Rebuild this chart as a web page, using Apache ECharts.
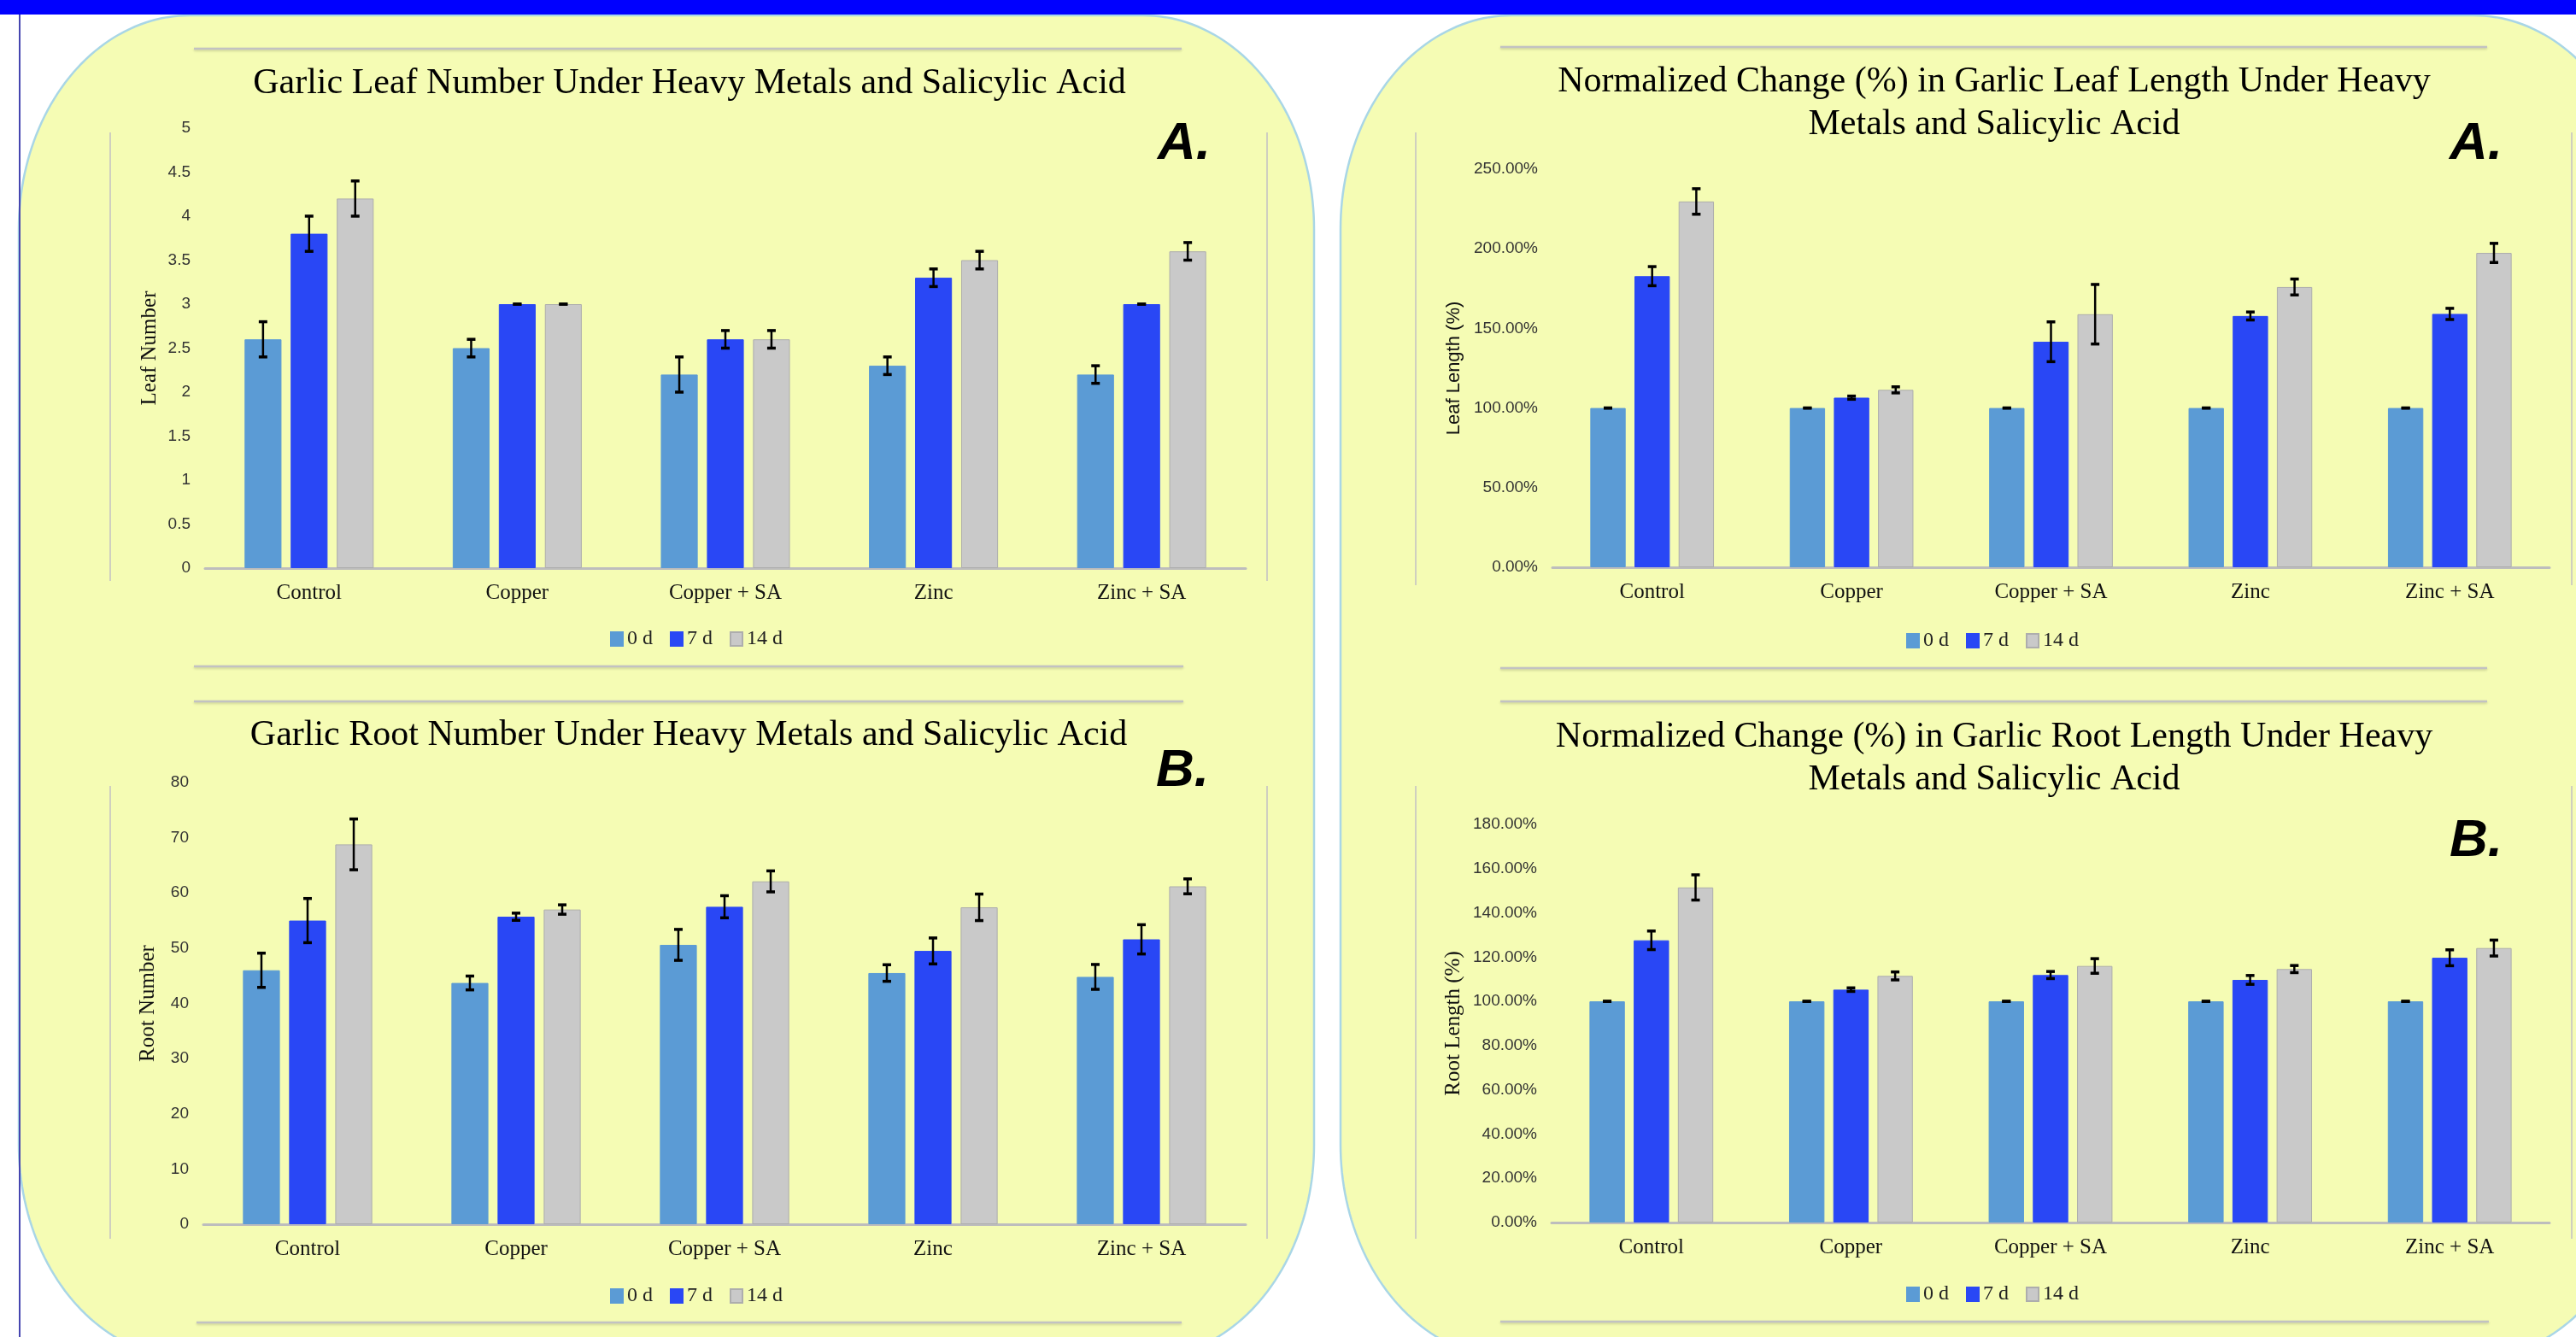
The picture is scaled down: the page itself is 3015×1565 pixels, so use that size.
<!DOCTYPE html>
<html>
<head>
<meta charset="utf-8">
<script src="https://cdn.jsdelivr.net/npm/echarts@6/dist/echarts.min.js"></script>
<style>
  html, body { margin: 0; padding: 0; background: #ffffff; }
  #chart { width: 3015px; height: 1565px; }
</style>
</head>
<body>
<div id="chart"></div>
<script>
// ---- data ----
const categories = ['Control', 'Copper', 'Copper + SA', 'Zinc', 'Zinc + SA'];
const seriesNames = ['0 d', '7 d', '14 d'];

// Garlic leaf number
const leafNum0 = [2.6, 2.5, 2.2, 2.3, 2.2];
const leafNum7 = [3.8, 3.0, 2.6, 3.3, 3.0];
const leafNum14 = [4.2, 3.0, 2.6, 3.5, 3.6];
const leafNumErr0 = [0.2, 0.1, 0.2, 0.1, 0.1];
const leafNumErr7 = [0.2, 0.0, 0.1, 0.1, 0.0];
const leafNumErr14 = [0.2, 0.0, 0.1, 0.1, 0.1];

// Garlic root number
const rootNum0 = [46.0, 43.7, 50.6, 45.5, 44.8];
const rootNum7 = [55.0, 55.7, 57.5, 49.5, 51.6];
const rootNum14 = [68.8, 57.0, 62.1, 57.4, 61.2];
const rootNumErr0 = [3.1, 1.25, 2.8, 1.5, 2.25];
const rootNumErr7 = [4.0, 0.65, 2.0, 2.35, 2.65];
const rootNumErr14 = [4.6, 0.85, 1.9, 2.4, 1.35];

// Normalized leaf length (%)
const leafLen0 = [100, 100, 100, 100, 100];
const leafLen7 = [182.8, 106.5, 141.6, 157.8, 159.1];
const leafLen14 = [229.7, 111.4, 158.9, 176.0, 197.4];
const leafLenErr0 = [0, 0, 0, 0, 0];
const leafLenErr7 = [6.0, 1.0, 12.5, 2.5, 3.5];
const leafLenErr14 = [8.0, 1.9, 18.7, 5.0, 6.0];

// Normalized root length (%)
const rootLen0 = [100, 100, 100, 100, 100];
const rootLen7 = [127.6, 105.3, 111.9, 109.7, 119.7];
const rootLen14 = [151.5, 111.5, 116.0, 114.6, 124.1];
const rootLenErr0 = [0, 0, 0, 0, 0];
const rootLenErr7 = [4.2, 0.8, 1.6, 2.0, 3.6];
const rootLenErr14 = [5.7, 1.8, 3.3, 1.6, 3.6];

// y-axis ranges: [min, max, interval]
const leafNumAxis = [0, 5, 0.5];
const rootNumAxis = [0, 80, 10];
const leafLenAxis = [0, 250, 50];
const rootLenAxis = [0, 180, 20];

// ---- styling ----
const barColors = ['#5B9BD5', '#2947F5', '#C9C9C9'];
const CAT_GAP = 0.38;
const BAR_GAP = 0.25;
const SERIF = "'Liberation Serif', 'Times New Roman', serif";
const SANS = "'Liberation Sans', Arial, sans-serif";

const panels = [
  { grid: { left: 240, top: 150, width: 1218, height: 515 },
    values: [leafNum0, leafNum7, leafNum14], errs: [leafNumErr0, leafNumErr7, leafNumErr14],
    axis: leafNumAxis, pct: false, yName: 'Leaf Number', yFont: SERIF, yNameSize: 25, nameGap: 52,
    legend: { left: 709, top: 731 } },
  { grid: { left: 238, top: 916, width: 1220, height: 517 },
    values: [rootNum0, rootNum7, rootNum14], errs: [rootNumErr0, rootNumErr7, rootNumErr14],
    axis: rootNumAxis, pct: false, yName: 'Root Number', yFont: SERIF, yNameSize: 25, nameGap: 52,
    legend: { left: 709, top: 1500 } },
  { grid: { left: 1817, top: 198, width: 1167, height: 466 },
    values: [leafLen0, leafLen7, leafLen14], errs: [leafLenErr0, leafLenErr7, leafLenErr14],
    axis: leafLenAxis, pct: true, yName: 'Leaf Length (%)', yFont: SANS, yNameSize: 22, nameGap: 104,
    legend: { left: 2226, top: 733 } },
  { grid: { left: 1816, top: 965, width: 1168, height: 466 },
    values: [rootLen0, rootLen7, rootLen14], errs: [rootLenErr0, rootLenErr7, rootLenErr14],
    axis: rootLenAxis, pct: true, yName: 'Root Length (%)', yFont: SERIF, yNameSize: 25, nameGap: 102,
    legend: { left: 2226, top: 1498 } }
];

// error bars drawn at the centre of each bar of a group
function errorRenderer(idx, total) {
  return function (params, api) {
    const ci = api.value(0), v = api.value(1), e = api.value(2);
    const band = api.size([1, 0])[0];
    const usable = band * (1 - CAT_GAP);
    const w = usable / (total + (total - 1) * BAR_GAP);
    const x = api.coord([ci, 0])[0] - usable / 2 + w / 2 + idx * w * (1 + BAR_GAP);
    const yT = api.coord([ci, v + e])[1];
    const yB = api.coord([ci, v - e])[1];
    const cap = 5;
    const st = { stroke: '#000000', lineWidth: 2.5 };
    return {
      type: 'group',
      children: [
        { type: 'line', shape: { x1: x, y1: yT, x2: x, y2: yB }, style: st },
        { type: 'line', shape: { x1: x - cap, y1: yT, x2: x + cap, y2: yT }, style: { stroke: '#000', lineWidth: 3.5 } },
        { type: 'line', shape: { x1: x - cap, y1: yB, x2: x + cap, y2: yB }, style: { stroke: '#000', lineWidth: 3.5 } }
      ]
    };
  };
}

function roundedPanel(x0, y0, x1, y1, rx, ry) {
  const pts = [];
  const N = 48;
  const corner = (cx, cy, a0) => {
    for (let i = 0; i <= N; i++) {
      const a = a0 + (i / N) * Math.PI / 2;
      pts.push([cx + rx * Math.cos(a), cy + ry * Math.sin(a)]);
    }
  };
  corner(x1 - rx, y0 + ry, -Math.PI / 2);
  corner(x1 - rx, y1 - ry, 0);
  corner(x0 + rx, y1 - ry, Math.PI / 2);
  corner(x0 + rx, y0 + ry, Math.PI);
  return pts;
}

const grids = [], xAxes = [], yAxes = [], series = [], legends = [];
panels.forEach((p, gi) => {
  grids.push(Object.assign({ containLabel: false }, p.grid));
  xAxes.push({
    type: 'category', gridIndex: gi, data: categories,
    axisLine: { show: true, lineStyle: { color: '#BDBDBD', width: 3 } },
    axisTick: { show: false },
    axisLabel: { fontFamily: SERIF, fontSize: 25, color: '#111111', margin: 17 }
  });
  yAxes.push({
    type: 'value', gridIndex: gi,
    min: p.axis[0], max: p.axis[1], interval: p.axis[2],
    splitLine: { show: false }, axisLine: { show: false }, axisTick: { show: false },
    axisLabel: {
      fontFamily: SANS, fontSize: 19, color: '#333333', margin: 17,
      formatter: p.pct ? (v) => v.toFixed(2) + '%' : (v) => String(v)
    },
    name: p.yName, nameLocation: 'middle', nameGap: p.nameGap,
    nameTextStyle: { fontFamily: p.yFont, fontSize: p.yNameSize, color: '#111111' }
  });
  p.values.forEach((vals, si) => {
    series.push({
      type: 'bar', name: seriesNames[si], xAxisIndex: gi, yAxisIndex: gi,
      data: vals,
      barCategoryGap: (CAT_GAP * 100) + '%', barGap: (BAR_GAP * 100) + '%',
      itemStyle: { color: barColors[si], borderColor: si === 2 ? '#ADADAD' : barColors[si], borderWidth: 1 },
      animation: false
    });
  });
  p.values.forEach((vals, si) => {
    series.push({
      type: 'custom', name: 'err' + gi + '_' + si, xAxisIndex: gi, yAxisIndex: gi,
      renderItem: errorRenderer(si, p.values.length),
      data: vals.map((v, ci) => [ci, v, p.errs[si][ci]]),
      encode: { x: 0, y: 1 }, z: 5, silent: true, animation: false
    });
  });
  legends.push({
    data: seriesNames, left: p.legend.left, top: p.legend.top,
    itemWidth: 14, itemHeight: 16, itemGap: 20, icon: 'rect',
    textStyle: { fontFamily: SERIF, fontSize: 24, color: '#222222' }
  });
});

function textEl(x, y, text, font, extra) {
  return Object.assign({
    type: 'text', x: x, y: y, z: 20,
    style: Object.assign({ text: text, font: font, fill: '#000000',
      align: 'center', verticalAlign: 'middle', textAlign: 'center', textVerticalAlign: 'middle' }, extra || {})
  });
}
function frameLine(x1, y1, x2, y2) {
  return { type: 'line', z: 1, shape: { x1, y1, x2, y2 },
    style: { stroke: '#C2C2C2', lineWidth: 2.5, shadowColor: 'rgba(0,0,0,0.18)', shadowBlur: 3, shadowOffsetY: 1.5 } };
}
function sideLine(x, y1, y2) {
  return { type: 'line', z: 1, shape: { x1: x, y1: y1, x2: x, y2: y2 },
    style: { stroke: '#CFCFC0', lineWidth: 2 } };
}

const graphics = [
  { type: 'polygon', z: 0, shape: { points: roundedPanel(22, 18, 1538, 1590, 200, 250) },
    style: { fill: '#F5FCB4', stroke: '#A9D6E6', lineWidth: 2.5 } },
  { type: 'polygon', z: 0, shape: { points: roundedPanel(1569, 18, 3095, 1590, 200, 250) },
    style: { fill: '#F5FCB4', stroke: '#A9D6E6', lineWidth: 2.5 } },
  { type: 'rect', z: 2, shape: { x: 0, y: 0, width: 3015, height: 17 }, style: { fill: '#0000FF' } },
  { type: 'rect', z: 2, shape: { x: 22, y: 17, width: 2, height: 1548 }, style: { fill: '#4646B0' } },

  frameLine(227, 57, 1383, 57), frameLine(227, 780, 1385, 780),
  frameLine(227, 821, 1385, 821), frameLine(230, 1548, 1383, 1548),
  frameLine(1756, 55, 2911, 55), frameLine(1756, 782, 2911, 782),
  frameLine(1756, 821, 2911, 821), frameLine(1756, 1547, 2913, 1547),
  sideLine(129, 155, 680), sideLine(129, 920, 1450),
  sideLine(1483, 155, 680), sideLine(1483, 920, 1450),
  sideLine(1657, 155, 685), sideLine(1657, 920, 1450),
  sideLine(3010, 155, 685), sideLine(3010, 920, 1450),

  textEl(807, 98, 'Garlic Leaf Number Under Heavy Metals and Salicylic Acid', '42px ' + SERIF),
  textEl(806, 861, 'Garlic Root Number Under Heavy Metals and Salicylic Acid', '42px ' + SERIF),
  textEl(2334, 121, 'Normalized Change (%) in Garlic Leaf Length Under Heavy\nMetals and Salicylic Acid', '42px ' + SERIF, { lineHeight: 50 }),
  textEl(2334, 888, 'Normalized Change (%) in Garlic Root Length Under Heavy\nMetals and Salicylic Acid', '42px ' + SERIF, { lineHeight: 50 }),

  textEl(1386, 169, 'A.', 'italic bold 62px ' + SANS),
  textEl(2898, 169, 'A.', 'italic bold 62px ' + SANS),
  textEl(1384, 903, 'B.', 'italic bold 62px ' + SANS),
  textEl(2898, 985, 'B.', 'italic bold 62px ' + SANS)
];

const chart = echarts.init(document.getElementById('chart'), null, { renderer: 'canvas', width: 3015, height: 1565 });
chart.setOption({
  backgroundColor: '#ffffff',
  animation: false,
  graphic: { elements: graphics },
  grid: grids,
  xAxis: xAxes,
  yAxis: yAxes,
  legend: legends,
  series: series
});
</script>
</body>
</html>
